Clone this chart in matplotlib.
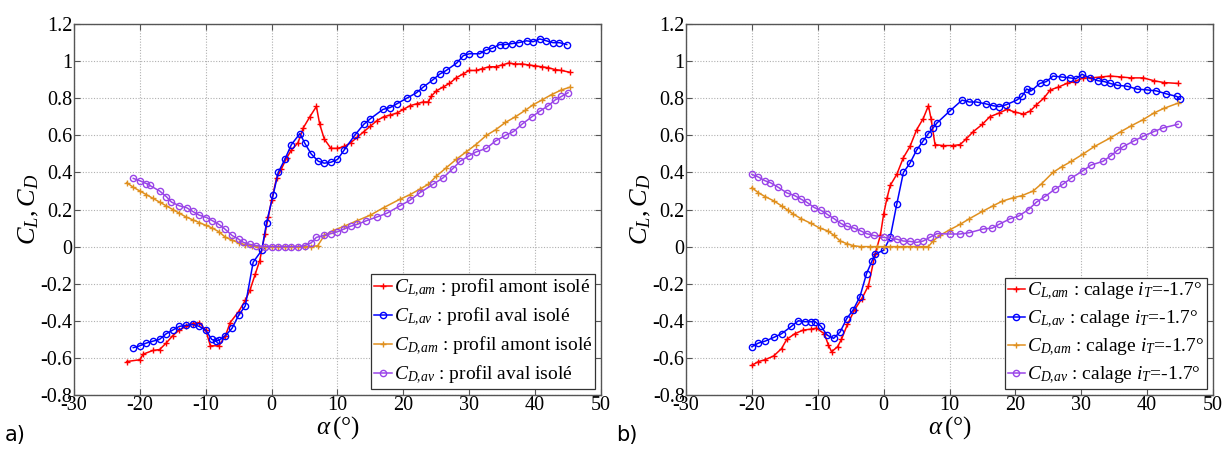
import matplotlib
matplotlib.use("Agg")
import matplotlib.pyplot as plt
from matplotlib import font_manager
import numpy as np


def first_font(names):
    for n in names:
        try:
            font_manager.findfont(font_manager.FontProperties(family=n), fallback_to_default=False)
            return n
        except Exception:
            pass
    return "DejaVu Serif"


SERIF = first_font(["Liberation Serif", "Times New Roman", "STIXGeneral"])
plt.rcParams["font.family"] = "serif"
plt.rcParams["font.serif"] = [SERIF, "DejaVu Serif"]
plt.rcParams["mathtext.fontset"] = "custom"
plt.rcParams["mathtext.rm"] = SERIF
plt.rcParams["mathtext.it"] = SERIF + ":italic"
plt.rcParams["axes.unicode_minus"] = False

# ---- panel a) : isolated profiles ----
a_cl_am_x = [-22, -20, -19.5, -18, -17, -16, -15, -14, -13, -12, -11, -10, -9.3, -8, -7, -6.3, -5, -4,
             -3.3, -2.5, -1.8, -1, -0.5, 0, 0.75, 1.5, 2.3, 3, 4, 4.8, 5.8, 6.8, 7.3, 8, 9, 10, 11, 12,
             13, 14, 15, 16, 17, 18, 19, 20, 21, 22, 23, 23.8, 24.2, 25, 26, 27, 28, 29, 30, 31, 32, 33,
             34, 35, 36, 37, 38, 39, 40, 41, 42, 43, 44, 45.3]
a_cl_am_y = [-0.62, -0.61, -0.58, -0.56, -0.555, -0.52, -0.48, -0.45, -0.43, -0.415, -0.41, -0.45, -0.535,
             -0.535, -0.48, -0.41, -0.35, -0.29, -0.236, -0.15, -0.075, 0.07, 0.16, 0.25, 0.37, 0.42, 0.48,
             0.52, 0.56, 0.64, 0.70, 0.756, 0.66, 0.58, 0.53, 0.53, 0.54, 0.56, 0.59, 0.62, 0.65, 0.68,
             0.70, 0.71, 0.72, 0.74, 0.76, 0.77, 0.78, 0.78, 0.81, 0.84, 0.86, 0.88, 0.91, 0.93, 0.95,
             0.95, 0.96, 0.97, 0.97, 0.98, 0.99, 0.985, 0.985, 0.98, 0.975, 0.97, 0.965, 0.955, 0.95, 0.94]

a_cl_av_x = [-21, -20, -19, -18, -17, -16, -15, -14, -13, -12, -11, -10, -9.1, -8.5, -8, -7, -6, -5,
             -4, -2.8, -1.5, -0.76, 0.24, 1.0, 2, 3, 4.3, 5, 6, 7.1, 8, 9, 10, 11, 12.6, 14, 15, 16.9,
             18, 19, 20.5, 22, 23, 24.5, 25.5, 26.5, 28.1, 29.1, 30, 31.6, 32.5, 33.5, 34.6, 35.5, 36.5,
             37.5, 38.7, 39.7, 40.7, 41.7, 42.7, 43.7, 44.8]
a_cl_av_y = [-0.545, -0.535, -0.52, -0.51, -0.50, -0.47, -0.45, -0.43, -0.425, -0.42, -0.43, -0.45, -0.50,
             -0.51, -0.505, -0.48, -0.44, -0.37, -0.32, -0.084, -0.02, 0.13, 0.28, 0.40, 0.47, 0.55, 0.61,
             0.56, 0.50, 0.46, 0.45, 0.455, 0.47, 0.52, 0.60, 0.66, 0.69, 0.74, 0.75, 0.77, 0.80, 0.83, 0.86,
             0.90, 0.93, 0.95, 0.99, 1.03, 1.04, 1.04, 1.06, 1.07, 1.09, 1.09, 1.095, 1.10, 1.11, 1.105, 1.12,
             1.11, 1.10, 1.10, 1.09]

a_cd_am_x = [-22, -21, -20, -19, -18, -17, -16, -15, -14, -13, -12, -11, -10, -9, -8, -7, -6, -5, -4, -3,
             -2, -1, 0, 1, 2, 3, 4, 5, 6, 7, 8, 9.3, 11, 13, 15, 17, 19.5, 21, 22.5, 23.8, 25, 26.5, 28,
             29.5, 31, 32.6, 34, 35.5, 37, 38.5, 39.7, 41, 42.5, 44, 45.3]
a_cd_am_y = [0.345, 0.32, 0.30, 0.28, 0.26, 0.24, 0.22, 0.20, 0.18, 0.16, 0.145, 0.13, 0.115, 0.10, 0.08, 0.05,
             0.035, 0.02, 0.01, 0.005, 0.0, 0.0, 0.0, 0.0, 0.0, 0.0, 0.0, 0.0, 0.0, 0.005, 0.06, 0.086, 0.11,
             0.14, 0.17, 0.21, 0.256, 0.28, 0.31, 0.336, 0.38, 0.425, 0.47, 0.51, 0.55, 0.60, 0.63, 0.67,
             0.70, 0.735, 0.765, 0.79, 0.82, 0.845, 0.86]

a_cd_av_x = [-21, -20, -19, -18.5, -17, -16, -15.2, -14, -12.9, -12, -11, -9.9, -9, -8, -7.1, -6, -5, -4.3,
             -3.3, -2.3, -1, 0, 1, 2, 3, 4, 5, 6, 6.8, 8, 9, 10, 11, 12, 13, 14.4, 16, 17.5, 19.5, 21, 22.5,
             24.5, 26, 27.5, 28.6, 30, 31, 32.6, 34, 35.5, 36.7, 38, 39.5, 40.7, 42, 43, 44, 45]
a_cd_av_y = [0.368, 0.355, 0.34, 0.33, 0.30, 0.27, 0.24, 0.22, 0.21, 0.19, 0.17, 0.157, 0.14, 0.12, 0.095,
             0.06, 0.04, 0.023, 0.012, 0.005, 0.0, 0.0, 0.0, 0.0, 0.0, 0.0, 0.005, 0.02, 0.05, 0.06, 0.07,
             0.08, 0.095, 0.11, 0.12, 0.14, 0.16, 0.18, 0.22, 0.25, 0.29, 0.336, 0.37, 0.42, 0.46, 0.49, 0.51,
             0.53, 0.57, 0.60, 0.62, 0.66, 0.70, 0.73, 0.76, 0.79, 0.81, 0.83]

# ---- panel b) : calage iT = -1.7 deg ----
b_cl_am_x = [-20, -19, -18, -16.7, -15.5, -14.7, -13.5, -12.2, -11, -10.2, -9, -8.4, -7.9, -7, -6.4, -5.5,
             -4.4, -3.3, -2.3, -1.3, -0.5, 0.0, 0.5, 1.0, 2.0, 3.0, 4.0, 5.0, 6.0, 6.8, 7.2, 7.8, 9, 10.5,
             11.6, 12.5, 13.6, 15, 16.1, 17.5, 18.7, 20, 21.2, 22.2, 23.2, 24.3, 25.3, 26.5, 27.8, 29, 30.3,
             31.5, 33, 34.4, 36, 37.5, 39.4, 41, 42.5, 44.7]
b_cl_am_y = [-0.64, -0.62, -0.61, -0.59, -0.55, -0.50, -0.47, -0.45, -0.445, -0.44, -0.47, -0.53, -0.567,
             -0.54, -0.50, -0.42, -0.34, -0.28, -0.21, -0.04, 0.06, 0.175, 0.26, 0.33, 0.39, 0.48, 0.54,
             0.63, 0.69, 0.76, 0.69, 0.55, 0.545, 0.545, 0.55, 0.58, 0.62, 0.66, 0.70, 0.72, 0.74, 0.725,
             0.715, 0.73, 0.765, 0.80, 0.845, 0.86, 0.88, 0.89, 0.91, 0.91, 0.915, 0.92, 0.915, 0.91, 0.91,
             0.895, 0.885, 0.88]

b_cl_av_x = [-20, -19, -18, -16.7, -15.5, -14, -12.95, -12, -11, -10.4, -9.5, -8.6, -7.6, -6.6, -5.6, -4.6,
             -3.6, -2.6, -1.8, -1.3, 0.0, 1.0, 2.0, 3.0, 4.0, 5.0, 6.0, 6.8, 7.5, 8.1, 10, 11.9, 13, 14.1,
             15.5, 16.6, 17.5, 18.6, 20.2, 21.0, 21.7, 22.4, 23.7, 24.7, 25.7, 27, 28.3, 29.2, 30.1, 31.3,
             32.5, 33.5, 34.4, 35.5, 37, 38.4, 40, 41.4, 42.8, 44.5, 45]
b_cl_av_y = [-0.54, -0.52, -0.51, -0.49, -0.47, -0.43, -0.40, -0.405, -0.405, -0.405, -0.43, -0.477, -0.495,
             -0.46, -0.388, -0.34, -0.27, -0.146, -0.08, -0.04, -0.02, 0.05, 0.23, 0.40, 0.45, 0.52, 0.57,
             0.61, 0.64, 0.667, 0.73, 0.79, 0.78, 0.78, 0.77, 0.76, 0.755, 0.765, 0.79, 0.81, 0.85, 0.84,
             0.88, 0.89, 0.92, 0.915, 0.91, 0.905, 0.93, 0.91, 0.895, 0.89, 0.88, 0.87, 0.865, 0.85, 0.845,
             0.84, 0.825, 0.81, 0.795]

b_cd_am_x = [-20, -19, -18, -16.7, -15.5, -14.5, -13.7, -12.5, -11, -9.7, -8.5, -7.5, -6.6, -5.5, -4.6, -3.5,
             -2, -1, 0, 1, 2, 3, 4, 5, 6, 6.8, 7.5, 8.5, 10, 11.6, 13, 15, 16.6, 18, 19.7, 21, 22.7, 24,
             25.7, 27, 28.5, 30.3, 32, 34.4, 36, 37.5, 39.4, 41, 42.5, 44.7]
b_cd_am_y = [0.318, 0.29, 0.27, 0.247, 0.22, 0.195, 0.175, 0.15, 0.125, 0.10, 0.085, 0.06, 0.03, 0.015,
             0.005, 0.0, 0.0, 0.0, 0.0, 0.0, 0.0, 0.0, 0.0, 0.0, 0.0, 0.0, 0.03, 0.06, 0.09, 0.12, 0.15, 0.19,
             0.22, 0.245, 0.264, 0.275, 0.30, 0.34, 0.40, 0.43, 0.46, 0.50, 0.54, 0.586, 0.62, 0.65, 0.685,
             0.72, 0.745, 0.774]

b_cd_av_x = [-20, -19, -18, -17.2, -16, -14.7, -13.5, -12.5, -11.7, -10.5, -9.5, -8.6, -7.5, -6.5, -5.6, -4.5,
             -3.5, -2.6, -1.5, 0, 1, 2, 3, 4, 5, 6, 7, 8.1, 10, 11.6, 13, 15.1, 16.5, 17.5, 19.2, 20.5, 22,
             23.2, 24.5, 26, 27.2, 28.5, 30.3, 31.5, 33.3, 34.5, 35.5, 36.4, 38, 39.4, 41, 42.4, 44.7]
b_cd_av_y = [0.39, 0.375, 0.355, 0.345, 0.32, 0.29, 0.275, 0.255, 0.24, 0.21, 0.195, 0.175, 0.15, 0.125, 0.11,
             0.10, 0.085, 0.07, 0.06, 0.05, 0.045, 0.04, 0.03, 0.028, 0.023, 0.03, 0.05, 0.07, 0.068, 0.068,
             0.075, 0.095, 0.10, 0.12, 0.15, 0.165, 0.20, 0.24, 0.27, 0.31, 0.336, 0.37, 0.41, 0.44, 0.46,
             0.49, 0.52, 0.54, 0.57, 0.595, 0.62, 0.64, 0.66]

ORANGE = "#E0901F"
PURPLE = "#9A45E8"
lab_a = [r"$C_{L{,}am}$ : profil amont isolé", r"$C_{L{,}av}$ : profil aval isolé",
         r"$C_{D{,}am}$ : profil amont isolé", r"$C_{D{,}av}$ : profil aval isolé"]
lab_b = [r"$C_{L{,}am}$ : calage $i_T$=-1.7°", r"$C_{L{,}av}$ : calage $i_T$=-1.7°",
         r"$C_{D{,}am}$ : calage $i_T$=-1.7°", r"$C_{D{,}av}$ : calage $i_T$=-1.7°"]
yt = [-0.8, -0.6, -0.4, -0.2, 0, 0.2, 0.4, 0.6, 0.8, 1, 1.2]
yt_lab = ["-0.8", "-0.6", "-0.4", "-0.2", "0", "0.2", "0.4", "0.6", "0.8", "1", "1.2"]
xt = [-30, -20, -10, 0, 10, 20, 30, 40, 50]


def panel(ax, series, labels):
    styles = [("r", "+"), ("b", "o"), (ORANGE, "+"), (PURPLE, "o")]
    for (x, y), (c, m), lab in zip(series, styles, labels):
        ax.plot(x, y, color=c, marker=m, mfc="none", ms=4.5, mew=1.0, lw=1.1, label=lab)
    ax.set_xlim(-30, 50); ax.set_ylim(-0.8, 1.2)
    ax.set_xticks(xt); ax.set_xticklabels([str(v) for v in xt])
    ax.set_yticks(yt); ax.set_yticklabels(yt_lab)
    ax.tick_params(direction="in", top=True, right=True, labelsize=14.5, length=4, pad=1, color="#555555")
    ax.grid(True, ls=(0, (1, 1.5)), color="#b0b0b0", lw=0.8)
    for s in ax.spines.values():
        s.set_color("#555555"); s.set_linewidth(1.0)
    ax.set_xlabel(r"$\alpha\,$(°)", fontsize=18, labelpad=-1)
    ax.set_ylabel(r"$C_L, C_D$", fontsize=19, labelpad=0)
    leg = ax.legend(loc="lower right", fontsize=14, handlelength=0.9, handletextpad=0.1,
                    borderaxespad=0.3, fancybox=False, framealpha=1, labelspacing=0.35,
                    borderpad=0.15, edgecolor="#333333")
    leg.get_frame().set_linewidth(0.9)


fig = plt.figure(figsize=(12.27, 4.55), dpi=100)
ax1 = fig.add_axes([0.0603, 0.132, 0.4295, 0.815])
ax2 = fig.add_axes([0.5591, 0.132, 0.4295, 0.815])
panel(ax1, [(a_cl_am_x, a_cl_am_y), (a_cl_av_x, a_cl_av_y), (a_cd_am_x, a_cd_am_y), (a_cd_av_x, a_cd_av_y)], lab_a)
panel(ax2, [(b_cl_am_x, b_cl_am_y), (b_cl_av_x, b_cl_av_y), (b_cd_am_x, b_cd_am_y), (b_cd_av_x, b_cd_av_y)], lab_b)
fig.text(0.004, 0.03, "a)", fontsize=15, family="DejaVu Sans")
fig.text(0.502, 0.03, "b)", fontsize=15, family="DejaVu Sans")
fig.savefig("out.png", dpi=100)
